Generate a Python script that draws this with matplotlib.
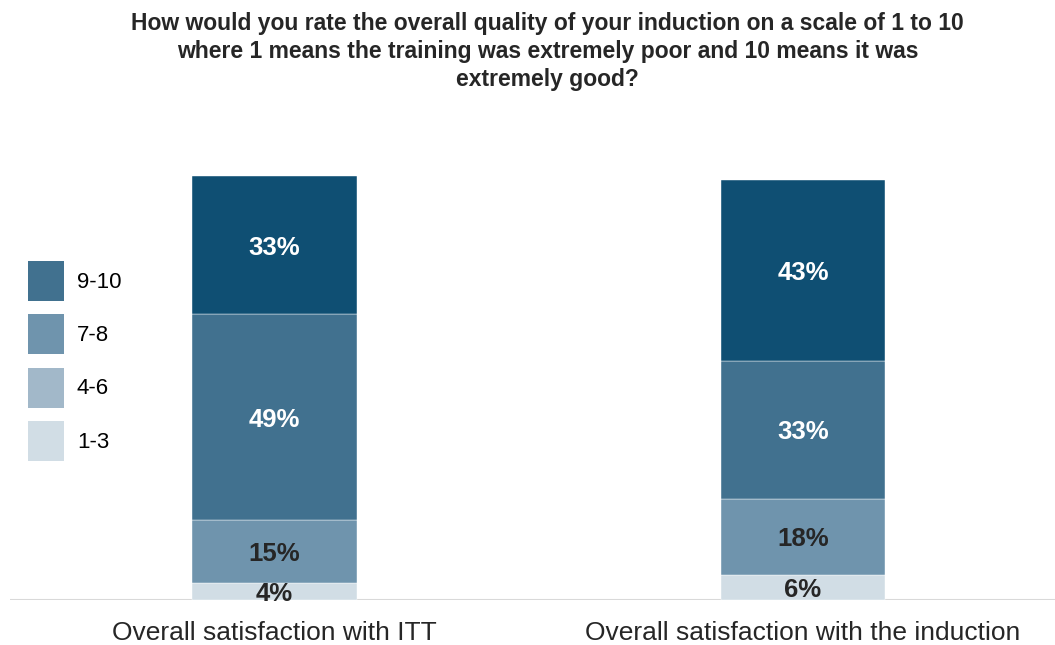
import matplotlib.pyplot as plt
from matplotlib.patches import Patch

plt.rcParams['font.family'] = ['Liberation Sans', 'DejaVu Sans']

# data
categories = ['Overall satisfaction with ITT', 'Overall satisfaction with the induction']
bands = ['1-3', '4-6', '7-8', '9-10']
values = {
    '1-3': [4, 6],
    '4-6': [15, 18],
    '7-8': [49, 33],
    '9-10': [33, 43],
}
title = ('How would you rate the overall quality of your induction on a scale of 1 to 10\n'
         'where 1 means the training was extremely poor and 10 means it was\n'
         'extremely good?')

bar_colors = {'1-3': '#D1DDE5', '4-6': '#6F94AD', '7-8': '#41718F', '9-10': '#0F4F73'}
legend_colors = {'1-3': '#D1DDE5', '4-6': '#A2B8C9', '7-8': '#6F94AD', '9-10': '#41718F'}
text_colors = {'1-3': '#262626', '4-6': '#262626', '7-8': 'white', '9-10': 'white'}

W, H = 1055, 645
fig = plt.figure(figsize=(W / 100, H / 100), dpi=100)
ax = fig.add_axes([10 / W, 45 / H, 1045 / W, 450 / H])

x = [0, 1]
bottom = [0, 0]
for b in bands:
    v = values[b]
    ax.bar(x, v, bottom=bottom, width=0.312, color=bar_colors[b],
           edgecolor='white', linewidth=0.3, zorder=2)
    for xi, vi, bi in zip(x, v, bottom):
        ax.text(xi, bi + vi / 2, f'{vi}%', ha='center', va='center_baseline',
                fontsize=18.5, fontweight='bold', color=text_colors[b], zorder=3)
    bottom = [bi + vi for bi, vi in zip(bottom, v)]

ax.set_xlim(-0.5005, 1.4768)
ax.set_ylim(0, 450 / 4.2)
ax.axhline(0, color='#D9D9D9', lw=1.5, zorder=1)
for s in ax.spines.values():
    s.set_visible(False)
ax.set_yticks([])
ax.set_xticks(x)
ax.set_xticklabels(categories, fontsize=19, color='#262626')
ax.tick_params(axis='x', length=0, pad=15)

handles = [Patch(facecolor=legend_colors[b], edgecolor='none') for b in reversed(bands)]
fig.legend(handles, list(reversed(bands)), loc='upper left',
           bbox_to_anchor=(28 / W, 1 - 261 / H), frameon=False, fontsize=16,
           handlelength=1.6, handleheight=2.39, labelspacing=0.6,
           handletextpad=0.6, borderpad=0, borderaxespad=0)

fig.text(0.519, 1 - 12 / H, title, ha='center', va='top', fontsize=16.5,
         fontweight='bold', color='#262626', linespacing=1.27)

fig.savefig('out.png', dpi=100)
